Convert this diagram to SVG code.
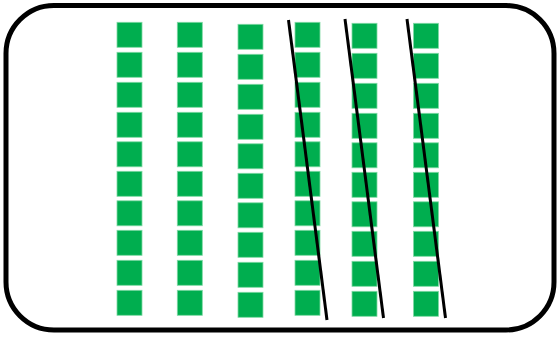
<svg xmlns="http://www.w3.org/2000/svg" width="558" height="338" viewBox="0 0 558 338">
<defs>
<style>
.sq{fill:#00AE4F;stroke:#7fd9a4;stroke-width:0.8}
.cut{stroke:#000;stroke-width:3;fill:none}
</style>
<g id="sqs">
<rect class="sq" x="0" y="0" width="25" height="25"/>
<rect class="sq" x="0" y="30" width="25" height="25"/>
<rect class="sq" x="0" y="60" width="25" height="25"/>
<rect class="sq" x="0" y="90" width="25" height="25"/>
<rect class="sq" x="0" y="119.5" width="25" height="25"/>
<rect class="sq" x="0" y="149" width="25" height="25"/>
<rect class="sq" x="0" y="178.5" width="25" height="25"/>
<rect class="sq" x="0" y="208" width="25" height="25"/>
<rect class="sq" x="0" y="238" width="25" height="25"/>
<rect class="sq" x="0" y="268" width="25" height="25"/>
</g>
</defs>
<rect id="frame" x="6" y="5.5" width="548" height="324.5" rx="48" ry="48" fill="#fff" stroke="#000" stroke-width="5"/>
<g id="col1"><use href="#sqs" x="117" y="22.3"/></g>
<g id="col2"><use href="#sqs" x="177.3" y="22.3"/></g>
<g id="col3"><use href="#sqs" x="238" y="24.3"/></g>
<g id="col4"><use href="#sqs" x="295" y="22.3"/></g>
<g id="col5"><use href="#sqs" x="352" y="23.3"/></g>
<g id="col6"><use href="#sqs" x="413.5" y="23.3"/></g>
<g id="connectors">
<line class="cut" x1="288.5" y1="20" x2="327" y2="320"/>
<line class="cut" x1="345" y1="19" x2="383.5" y2="318"/>
<line class="cut" x1="407" y1="19" x2="445.5" y2="318"/>
</g>
</svg>
